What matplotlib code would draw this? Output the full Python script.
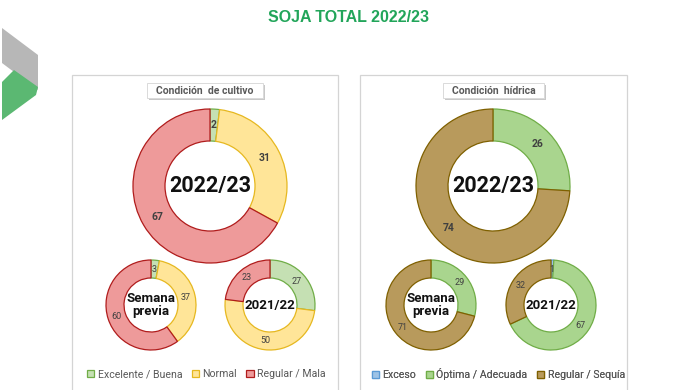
import matplotlib.pyplot as plt
from matplotlib.patches import Rectangle, Polygon, Patch
import numpy as np

### data

title = "SOJA TOTAL 2022/23"

cultivo_title = "Condición  de cultivo"
cultivo_labels = ["Excelente / Buena", "Normal", "Regular / Mala"]
cultivo_actual = [2, 31, 67]
cultivo_previa = [3, 37, 60]
cultivo_anterior = [27, 50, 23]

hidrica_title = "Condición  hídrica"
hidrica_labels = ["Exceso", "Óptima / Adecuada", "Regular / Sequía"]
hidrica_actual = [0, 26, 74]
hidrica_previa = [0, 29, 71]
hidrica_anterior = [1, 67, 32]

center_texts = ["2022/23", "Semana\nprevia", "2021/22"]

cultivo_fill = ["#c5e0b3", "#ffe598", "#ee9a9a"]
cultivo_edge = ["#70ad47", "#e6b820", "#b01c1c"]
hidrica_fill = ["#9dc3e6", "#a9d58e", "#b89a5c"]
hidrica_edge = ["#5b9bd5", "#70ad47", "#7f6000"]

W, H = 696, 390
narrow = ["Roboto", "DejaVu Sans"]

fig = plt.figure(figsize=(W / 100, H / 100), dpi=100)
ax = fig.add_axes([0, 0, 1, 1])


def Y(y):
    # pixel rows from top -> data y
    return H - y


def donut(values, fills, edges, cx, cy, r, hole, txt, txt_size, lab_size, lab_bold):
    wedges, _ = ax.pie(values, colors=fills, radius=r, center=(cx, Y(cy)),
                       startangle=90, counterclock=False, frame=True,
                       wedgeprops=dict(width=r - hole, linewidth=0.9))
    for w, e in zip(wedges, edges):
        w.set_edgecolor(e)
    rm = (r + hole) / 2
    for w, v in zip(wedges, values):
        if v == 0:
            continue
        a = np.deg2rad((w.theta1 + w.theta2) / 2)
        ax.text(cx + rm * np.cos(a), Y(cy) + rm * np.sin(a), str(v),
                ha="center", va="center", fontsize=lab_size, color="#404040",
                fontweight="bold" if lab_bold else "normal", family=narrow)
    ax.text(cx, Y(cy), txt, ha="center", va="center", fontsize=txt_size,
            fontweight="bold", color="#111111", family=narrow, linespacing=1.0)


def panel(x0, x1, box, label, labels, fills, edges, actual, previa, anterior, cbig, cl, cr, leg_x):
    ax.add_patch(Rectangle((x0, Y(395)), x1 - x0, 395 - 75, facecolor="white",
                           edgecolor="#d4d4d4", linewidth=0.9, zorder=0))
    bx0, bx1 = box
    ax.add_patch(Rectangle((bx0 + 1.5, Y(99.5)), bx1 - bx0, 15, facecolor="#c8c8c8",
                           edgecolor="none", zorder=1))
    ax.add_patch(Rectangle((bx0, Y(98)), bx1 - bx0, 15, facecolor="white",
                           edgecolor="#dadada", linewidth=0.7, zorder=2))
    ax.text((bx0 + bx1) / 2, Y(90.5), label, ha="center", va="center", fontsize=7.5,
            fontweight="bold", color="#595959", zorder=3, family=narrow)

    donut(actual, fills, edges, cbig, 186, 77, 45, center_texts[0], 15.5, 7.5, True)
    donut(previa, fills, edges, cl, 305, 45, 27, center_texts[1], 9.5, 6.5, False)
    donut(anterior, fills, edges, cr, 305, 45, 27, center_texts[2], 9.5, 6.5, False)

    handles = [Patch(facecolor=f, edgecolor=e, linewidth=0.9) for f, e in zip(fills, edges)]
    leg = ax.legend(handles, labels, loc="center left", bbox_to_anchor=(leg_x, Y(374)),
                    bbox_transform=ax.transData, ncol=3, frameon=False,
                    handlelength=0.7, handleheight=0.7, handletextpad=0.3,
                    columnspacing=0.9, borderpad=0, borderaxespad=0,
                    prop=dict(size=7.6, family=narrow))
    for t in leg.get_texts():
        t.set_color("#595959")
    ax.add_artist(leg)


panel(72, 338, (147, 263), cultivo_title, cultivo_labels, cultivo_fill, cultivo_edge,
      cultivo_actual, cultivo_previa, cultivo_anterior, 210, 151, 270, 87)
panel(360, 627, (443, 544), hidrica_title, hidrica_labels, hidrica_fill, hidrica_edge,
      hidrica_actual, hidrica_previa, hidrica_anterior, 493, 431, 551, 372)

# logo
ax.add_patch(Polygon([(2, Y(28)), (38, Y(55)), (38, Y(90)), (2, Y(63))],
                     closed=True, facecolor="#b7b7b7", edgecolor="none"))
ax.add_patch(Polygon([(2, Y(82)), (14, Y(70)), (38, Y(87)), (36, Y(95)), (2, Y(120))],
                     closed=True, facecolor="#5bb872", edgecolor="none"))

ax.text(348, Y(18), title, ha="center", va="center", fontsize=11.5, fontweight="bold",
        color="#22a55a", family=["Liberation Sans", "DejaVu Sans"])

ax.set_xlim(0, W)
ax.set_ylim(0, H)
ax.set_aspect("auto")
ax.axis("off")

fig.savefig("out.png", dpi=100)
